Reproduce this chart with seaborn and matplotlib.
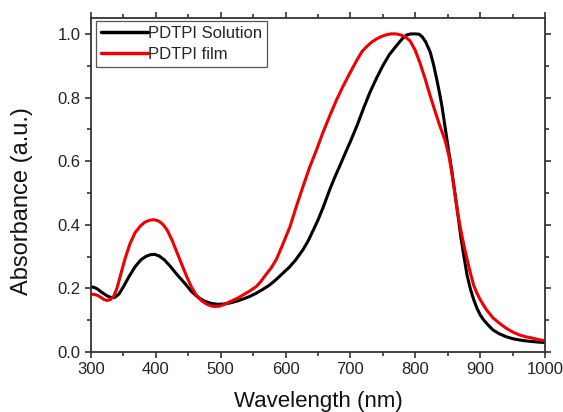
"""
UV-vis absorbance of PDTPI in solution and as a film.
"""

import pandas as pd
import matplotlib
matplotlib.use("Agg")
import matplotlib.pyplot as plt
from matplotlib.ticker import MultipleLocator, FormatStrFormatter
import seaborn as sns

# --- Data ---
SOLUTION_NM = [300, 305, 310, 315, 320, 326, 332, 337, 343, 350, 358, 368, 377, 385,
               392, 398, 405, 413, 422, 432, 445, 455, 465, 475, 485, 495, 505, 514,
               525, 535, 545, 555, 565, 575, 585, 596, 605, 615, 627, 635, 642, 650,
               658, 668, 676, 684, 692, 700, 710, 720, 730, 740, 750, 760, 771, 780,
               787, 793, 800, 806, 811, 816, 823, 828, 833, 837, 841, 845, 848, 852,
               856, 861, 866, 870, 875, 880, 885, 890, 895, 900, 905, 910, 915, 920,
               930, 940, 950, 960, 970, 980, 990, 1000]
SOLUTION_ABS = [0.205, 0.203, 0.198, 0.19, 0.183, 0.175, 0.171, 0.172, 0.182, 0.205,
                0.235, 0.268, 0.29, 0.301, 0.306, 0.307, 0.302, 0.29, 0.27, 0.245,
                0.215, 0.19, 0.172, 0.16, 0.153, 0.15, 0.151, 0.154, 0.16, 0.167,
                0.175, 0.185, 0.197, 0.21, 0.227, 0.248, 0.265, 0.288, 0.322, 0.35,
                0.38, 0.415, 0.455, 0.51, 0.55, 0.587, 0.625, 0.662, 0.711, 0.765,
                0.816, 0.86, 0.90, 0.935, 0.963, 0.985, 0.997, 1.0, 1.0, 0.999, 0.99,
                0.975, 0.943, 0.905, 0.858, 0.818, 0.774, 0.72, 0.679, 0.625, 0.574,
                0.5, 0.427, 0.365, 0.3, 0.24, 0.198, 0.165, 0.138, 0.117, 0.102, 0.09,
                0.079, 0.069, 0.057, 0.048, 0.042, 0.038, 0.035, 0.033, 0.031, 0.03]

FILM_NM = [300, 305, 310, 315, 320, 325, 330, 335, 340, 346, 352, 360, 368, 376, 383,
           390, 397, 404, 410, 417, 424, 432, 440, 448, 455, 462, 470, 478, 485, 491,
           498, 505, 514, 525, 535, 545, 555, 562, 570, 578, 586, 596, 607, 617, 627,
           637, 648, 658, 668, 678, 689, 700, 710, 718, 725, 732, 740, 748, 755, 762,
           770, 777, 785, 792, 800, 807, 815, 823, 830, 838, 846, 852, 856, 861, 866,
           870, 875, 880, 885, 890, 895, 900, 905, 910, 920, 930, 940, 950, 960, 970,
           980, 990, 1000]
FILM_ABS = [0.182, 0.181, 0.178, 0.172, 0.165, 0.162, 0.165, 0.175, 0.2, 0.245, 0.29,
            0.34, 0.375, 0.396, 0.408, 0.414, 0.416, 0.412, 0.403, 0.385, 0.356,
            0.316, 0.275, 0.235, 0.204, 0.18, 0.162, 0.151, 0.145, 0.143, 0.144,
            0.149, 0.158, 0.168, 0.18, 0.192, 0.206, 0.222, 0.244, 0.265, 0.292,
            0.34, 0.395, 0.46, 0.521, 0.58, 0.637, 0.692, 0.742, 0.79, 0.837, 0.88,
            0.918, 0.945, 0.96, 0.973, 0.984, 0.992, 0.997, 1.0, 1.0, 0.997, 0.99,
            0.978, 0.948, 0.91, 0.86, 0.805, 0.76, 0.71, 0.665, 0.615, 0.568, 0.5,
            0.43, 0.385, 0.335, 0.29, 0.248, 0.21, 0.185, 0.165, 0.148, 0.132, 0.107,
            0.09, 0.075, 0.063, 0.054, 0.048, 0.044, 0.039, 0.035]

LABELS = ["PDTPI Solution", "PDTPI film"]
COLORS = {"PDTPI Solution": "black", "PDTPI film": "#ee0000"}


def build_frame():
    sol = pd.DataFrame({"nm": SOLUTION_NM, "abs": SOLUTION_ABS, "sample": LABELS[0]})
    film = pd.DataFrame({"nm": FILM_NM, "abs": FILM_ABS, "sample": LABELS[1]})
    return pd.concat([sol, film], ignore_index=True)


def main():
    sns.set_theme(style="ticks")
    plt.rcParams["font.family"] = ["Liberation Sans", "DejaVu Sans"]
    edge = "#333333"

    df = build_frame()
    fig = plt.figure(figsize=(5.63, 4.12), dpi=100)
    ax = fig.add_axes([91 / 563, 1 - 352 / 412, 454 / 563, 334 / 412])

    sns.lineplot(data=df, x="nm", y="abs", hue="sample", palette=COLORS,
                 sort=False, estimator=None, linewidth=2.2, ax=ax, legend=False)

    ax.set_xlim(300, 1000)
    ax.set_ylim(0, 1.05)
    ax.xaxis.set_major_locator(MultipleLocator(100))
    ax.xaxis.set_minor_locator(MultipleLocator(50))
    ax.yaxis.set_major_locator(MultipleLocator(0.2))
    ax.yaxis.set_minor_locator(MultipleLocator(0.1))
    ax.yaxis.set_major_formatter(FormatStrFormatter("%.1f"))

    for s in ax.spines.values():
        s.set_visible(True)
        s.set_color(edge)
        s.set_linewidth(1.3)
    ax.tick_params(which="both", direction="out", top=True, right=True,
                   labeltop=False, labelright=False, color=edge, width=1.2)
    ax.tick_params(which="major", length=4, labelsize=12, pad=3.5, labelcolor="#222222")
    ax.tick_params(which="minor", length=3)

    ax.set_xlabel("Wavelength (nm)", fontsize=16, color="#111111")
    ax.set_ylabel("Absorbance (a.u.)", fontsize=17, color="#111111")
    ax.xaxis.set_label_coords(0.5, -0.117)
    ax.yaxis.set_label_coords(-0.128, 0.452)

    handles = [plt.Line2D([], [], color=COLORS[k], linewidth=2.5) for k in LABELS]
    leg = ax.legend(handles, LABELS, loc="upper left", bbox_to_anchor=(0.011, 0.991),
                    fontsize=12, handlelength=2.8, handletextpad=0.0,
                    labelspacing=0.34, borderpad=0.3, borderaxespad=0,
                    fancybox=False, framealpha=1)
    leg.get_frame().set_edgecolor("#555555")
    leg.get_frame().set_linewidth(0.9)

    fig.savefig("out.png", dpi=100)


if __name__ == "__main__":
    main()
